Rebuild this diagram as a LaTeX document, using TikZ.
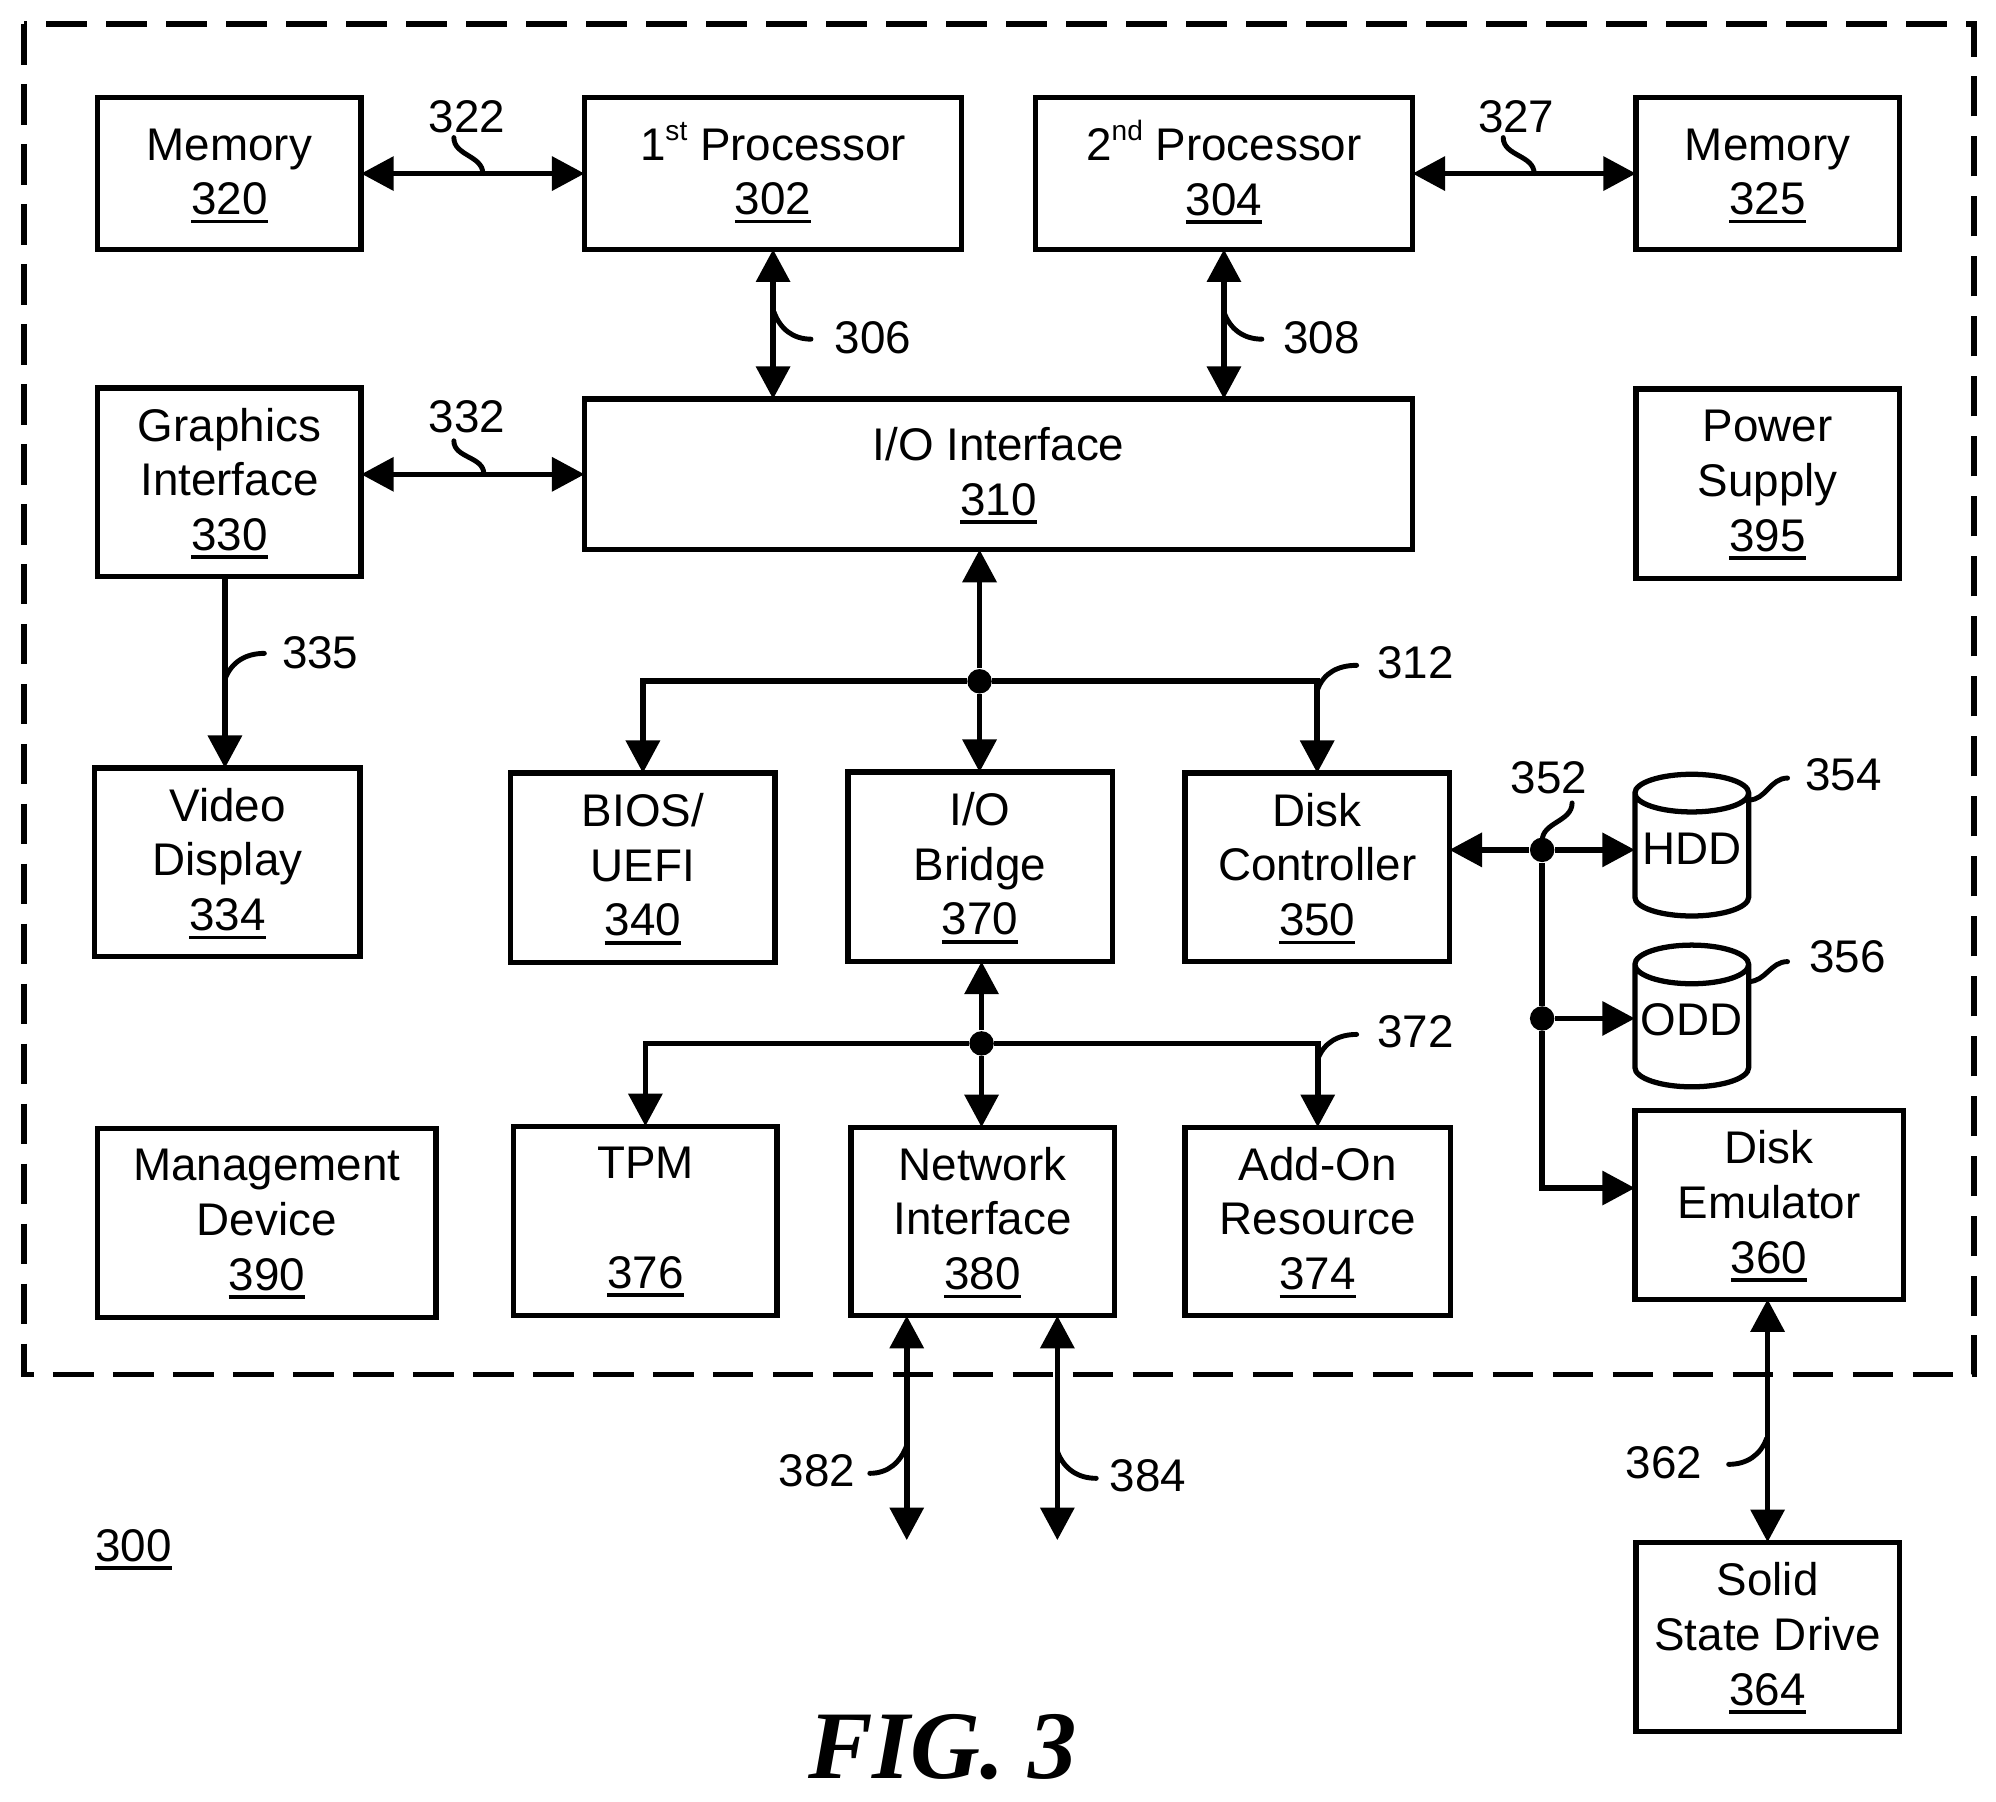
\documentclass[tikz,border=0pt]{standalone}
\usepackage{fontspec}
\usepackage{xcolor}
\setmainfont{Liberation Sans}
\newfontfamily\figfont{Liberation Serif}
\usetikzlibrary{calc, arrows.meta, shapes.geometric}

\newcommand{\refnum}[1]{\leavevmode\vtop to 0pt{\hbox{#1}\kern1.3pt\hrule height 1pt\vss}}
\newcommand{\ordn}[1]{\smash{\raisebox{5.6pt}{\fontsize{8}{8}\selectfont #1}}}

\tikzset{
	box/.style 2 args={draw, line width=1.5pt, align=center, inner sep=0pt, outer sep=0pt,
		minimum width=#1*0.01cm, minimum height=#2*0.01cm, text depth=1pt,
		font=\fontsize{13.05}{15.6}\selectfont},
	tall/.style={text depth=1.8pt},
	drive/.style={draw, line width=1.5pt, cylinder, shape border rotate=90, shape aspect=0.38,
		inner sep=0pt, outer sep=0pt, minimum width=1.14cm, minimum height=1.42cm, text depth=4pt,
		font=\fontsize{13.05}{15.6}\selectfont},
	num/.style={inner sep=0pt, font=\fontsize{13.05}{15.6}\selectfont},
	junction/.style={circle, fill=black, inner sep=0pt, minimum size=0.245cm},
	bi/.style={line width=1.6pt, {Triangle[length=9.3pt,width=9.5pt]}-{Triangle[length=9.3pt,width=9.5pt]}},
	one/.style={line width=1.6pt, -{Triangle[length=9.3pt,width=9.5pt]}},
	lead/.style={line width=1.4pt, line cap=round},
}

\begin{document}
\begin{tikzpicture}[x=0.01cm, y=-0.01cm]
	\useasboundingbox (-1,-1) rectangle (2000,1805);

	\draw [line width=1.5pt, dash pattern=on 11.6pt off 5.5pt] (23,23) rectangle (1978,1377);

	% boxes
	\node [box={264}{152}] (mem320) at (229,173) {Memory\\\refnum{320}};
	\node [box={378}{152}] (proc302) at (774,173) {1\ordn{st} Processor\\\refnum{302}};
	\node [box={378}{152}] (proc304) at (1226,173) {2\ordn{nd} Processor\\\refnum{304}};
	\node [box={264}{152}] (mem325) at (1771,173) {Memory\\\refnum{325}};
	\node [box={264}{189}, tall] (gfx330) at (229,482.5) {Graphics\\Interface\\\refnum{330}};
	\node [box={830}{151}, tall] (io310) at (1000,474.5) {I/O Interface\\\refnum{310}};
	\node [box={264}{190}, tall] (pow395) at (1771,484) {Power\\Supply\\\refnum{395}};
	\node [box={266}{189}, tall] (vid334) at (227,863.5) {Video\\Display\\\refnum{334}};
	\node [box={265}{190}, tall] (bios340) at (643.5,869) {BIOS/\\UEFI\\\refnum{340}};
	\node [box={265}{190}, tall] (brg370) at (981.5,868) {I/O\\Bridge\\\refnum{370}};
	\node [box={265}{189}, tall] (dsk350) at (1319.5,868.5) {Disk\\Controller\\\refnum{350}};
	\node [box={339}{190}, tall] (mgt390) at (266.5,1225) {Management\\Device\\\refnum{390}};
	\node [box={264}{190}, tall] (tpm376) at (646,1223) {TPM\\\mbox{}\\\refnum{376}};
	\node [box={264}{189}, tall] (net380) at (984,1223.5) {Network\\Interface\\\refnum{380}};
	\node [box={266}{189}, tall] (add374) at (1320,1223.5) {Add-On\\Resource\\\refnum{374}};
	\node [box={269}{189}, tall] (emu360) at (1772.5,1207) {Disk\\Emulator\\\refnum{360}};
	\node [box={264}{190}, tall] (ssd364) at (1771,1640) {Solid\\State Drive\\\refnum{364}};
	\node [drive] (hdd354) at (1695,857) {HDD};
	\node [drive] (odd356) at (1695,1028.5) {ODD};

	% junctions
	\node [junction] (j312) at (981,682) {};
	\node [junction] (j372) at (983,1045) {};
	\node [junction] (j352) at (1545,851) {};
	\node [junction] (j356) at (1545,1020) {};

	\coordinate (in335) at (224.5,769);
	\coordinate (in360) at (1638,1190);
	\coordinate (end382) at (908,1543);
	\coordinate (end384) at (1059,1543);

	% connectors
	\draw [bi] (mem320) -- (proc302);
	\draw [bi] (proc304) -- (mem325);
	\draw [bi] (proc302) -- (proc302 |- io310.north);
	\draw [bi] (proc304) -- (proc304 |- io310.north);
	\draw [bi] (gfx330.east |- io310) -- (io310);
	\draw [one] (gfx330.south -| in335) -- (in335);
	\draw [one] (j312) -- (io310.south -| j312);
	\draw [one] (j312) -| (bios340.north);
	\draw [one] (j312) -- (brg370.north -| j312);
	\draw [one] (j312) -| (dsk350.north);
	\draw [one] (j372) -- (brg370.south -| j372);
	\draw [one] (j372) -| (tpm376.north);
	\draw [one] (j372) -- (net380.north -| j372);
	\draw [one] (j372) -| (add374.north);
	\draw [one] (j352) -- (dsk350.east |- j352);
	\draw [one] (j352) -- (hdd354.west |- j352);
	\draw [line width=1.6pt] (j352) -- (j356);
	\draw [one] (j356) -- (odd356.west |- j356);
	\draw [one] (j356) |- (in360);
	\draw [bi] (net380.south -| end382) -- (end382);
	\draw [bi] (net380.south -| end384) -- (end384);
	\draw [bi] (emu360.south -| ssd364) -- (ssd364);

	% reference numbers
	\node [num] (n322) at (467,116) {322};
	\node [num] (n327) at (1519,116) {327};
	\node [num] (n306) at (874,338) {306};
	\node [num] (n308) at (1324,338) {308};
	\node [num] (n332) at (467,417) {332};
	\node [num] (n335) at (320,653) {335};
	\node [num] (n312) at (1418,663) {312};
	\node [num] (n372) at (1418,1033) {372};
	\node [num] (n352) at (1552,779) {352};
	\node [num] (n354) at (1847,776) {354};
	\node [num] (n356) at (1851,958) {356};
	\node [num] (n382) at (818,1473) {382};
	\node [num] (n384) at (1150,1478) {384};
	\node [num] (n362) at (1667,1465) {362};
	\node [num] (n300) at (133,1548) {\refnum{300}};
	\node [inner sep=0pt, font=\fontsize{27.6}{30}\selectfont\figfont\bfseries\itshape] (fig3) at (944,1750) {FIG. 3};

	% leaders
	\draw [lead] ([shift={(-13,4)}]n322.south) to [out=-90, in=90] (483,173);
	\draw [lead] ([shift={(-13,4)}]n327.south) to [out=-90, in=90] (1537,173);
	\draw [lead] ([shift={(-13,7)}]n332.south) to [out=-90, in=90] (484,474);
	\draw [lead] (775,312) to [out=-70, in=180] ([shift={(-23,1)}]n306.west);
	\draw [lead] (1226,312) to [out=-70, in=180] ([shift={(-21,1)}]n308.west);
	\draw [lead] (224.5,680) to [out=70, in=180] ([shift={(-17,1)}]n335.west);
	\draw [lead] (1320,690) to [out=70, in=180] ([shift={(-20,3)}]n312.west);
	\draw [lead] (1320,1061) to [out=70, in=180] ([shift={(-20,3)}]n372.west);
	\draw [lead] (1545,842) to [out=90, in=-90] ([shift={(23,8)}]n352.south);
	\draw [lead] (1752,801) to [out=0, in=180] ([shift={(-17,3)}]n354.west);
	\draw [lead] (1752,983) to [out=0, in=180] ([shift={(-21,5)}]n356.west);
	\draw [lead] (908,1448) to [out=-110, in=0] ([shift={(14,3)}]n382.east);
	\draw [lead] (1059,1454) to [out=-70, in=180] ([shift={(-13,3)}]n384.west);
	\draw [lead] (1770,1441) to [out=-110, in=0] ([shift={(26,2)}]n362.east);
\end{tikzpicture}
\end{document}
